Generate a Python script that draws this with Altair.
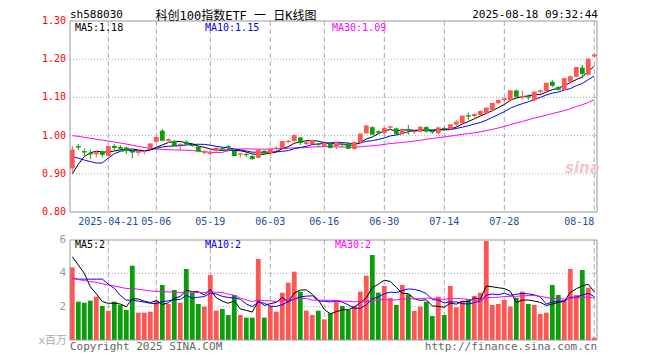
import altair as alt
import pandas as pd

# ---------------- data ----------------
tick_idx = [6, 14, 23, 33, 42, 52, 62, 72, 87]
tick_text = ["2025-04-21", "05-06", "05-19", "06-03", "06-16", "06-30", "07-14", "07-28", "08-18"]
price_ticks = [1.30, 1.20, 1.10, 1.00, 0.90, 0.80]
price_grid = [1.20, 1.10, 1.00, 0.90]
vol_ticks = [6, 4, 2]
vol_grid = [4, 2]

opens = [
    0.914, 0.972, 0.959, 0.955, 0.951, 0.957, 0.947, 0.973, 0.970, 0.969,
    0.960, 0.955, 0.957, 0.967, 0.984, 1.013, 0.986, 0.986, 0.975, 0.984,
    0.976, 0.971, 0.955, 0.953, 0.960, 0.967, 0.972, 0.960, 0.950, 0.952,
    0.947, 0.942, 0.960, 0.954, 0.965, 0.967, 0.983, 0.986, 0.995, 0.978,
    0.978, 0.979, 0.973, 0.980, 0.972, 0.979, 0.980, 0.965, 0.982, 1.006,
    1.022, 1.011, 1.007, 1.021, 1.019, 1.005, 1.016, 1.009, 1.010, 1.022,
    1.012, 1.006, 1.020, 1.017, 1.029, 1.032, 1.053, 1.051, 1.054, 1.058,
    1.067, 1.085, 1.093, 1.093, 1.118, 1.100, 1.103, 1.092, 1.114, 1.117,
    1.141, 1.127, 1.120, 1.141, 1.154, 1.178, 1.159, 1.207]
closes = [
    0.962, 0.970, 0.957, 0.952, 0.955, 0.951, 0.971, 0.969, 0.967, 0.961,
    0.957, 0.958, 0.959, 0.978, 0.995, 0.988, 0.989, 0.974, 0.977, 0.978,
    0.974, 0.960, 0.958, 0.955, 0.967, 0.965, 0.970, 0.948, 0.952, 0.950,
    0.940, 0.962, 0.954, 0.964, 0.967, 0.984, 0.985, 1.000, 0.982, 0.981,
    0.987, 0.977, 0.980, 0.969, 0.982, 0.977, 0.967, 0.982, 1.004, 1.025,
    1.004, 1.009, 1.019, 1.023, 1.005, 1.016, 1.014, 1.011, 1.022, 1.012,
    1.010, 1.020, 1.018, 1.028, 1.035, 1.051, 1.051, 1.055, 1.063, 1.072,
    1.084, 1.092, 1.096, 1.117, 1.103, 1.102, 1.101, 1.114, 1.117, 1.137,
    1.132, 1.121, 1.149, 1.154, 1.178, 1.163, 1.200, 1.211]
highs = [
    0.973, 0.978, 0.966, 0.963, 0.960, 0.961, 0.973, 0.978, 0.975, 0.971,
    0.963, 0.962, 0.963, 0.980, 0.998, 1.017, 0.993, 0.988, 0.980, 0.988,
    0.979, 0.973, 0.962, 0.960, 0.969, 0.970, 0.975, 0.962, 0.955, 0.956,
    0.948, 0.963, 0.962, 0.969, 0.972, 0.986, 0.988, 1.003, 0.997, 0.986,
    0.990, 0.980, 0.982, 0.981, 0.983, 0.983, 0.983, 0.984, 1.005, 1.028,
    1.024, 1.014, 1.021, 1.026, 1.021, 1.018, 1.028, 1.014, 1.024, 1.025,
    1.015, 1.024, 1.023, 1.030, 1.040, 1.053, 1.060, 1.058, 1.066, 1.074,
    1.086, 1.094, 1.099, 1.119, 1.121, 1.118, 1.108, 1.115, 1.121, 1.139,
    1.146, 1.130, 1.151, 1.157, 1.180, 1.185, 1.202, 1.215]
lows = [
    0.905, 0.962, 0.947, 0.938, 0.943, 0.943, 0.945, 0.962, 0.960, 0.952,
    0.941, 0.948, 0.951, 0.962, 0.982, 0.985, 0.981, 0.972, 0.962, 0.975,
    0.971, 0.956, 0.951, 0.948, 0.958, 0.960, 0.962, 0.946, 0.942, 0.944,
    0.936, 0.940, 0.950, 0.947, 0.960, 0.963, 0.980, 0.984, 0.975, 0.975,
    0.975, 0.970, 0.971, 0.966, 0.965, 0.970, 0.965, 0.962, 0.981, 1.004,
    1.002, 1.003, 1.004, 1.016, 1.001, 1.002, 1.002, 1.004, 1.008, 1.008,
    1.004, 1.002, 1.012, 1.015, 1.025, 1.030, 1.040, 1.047, 1.052, 1.055,
    1.065, 1.082, 1.088, 1.090, 1.098, 1.094, 1.093, 1.090, 1.110, 1.115,
    1.127, 1.118, 1.118, 1.139, 1.152, 1.150, 1.157, 1.205]
volumes = [
    4.36, 2.30, 2.24, 2.36, 2.60, 2.04, 1.76, 2.30, 2.10, 1.80,
    4.46, 1.64, 1.64, 1.70, 2.36, 3.30, 2.16, 3.00, 2.24, 4.26,
    2.84, 2.16, 2.00, 3.90, 1.76, 1.86, 1.50, 2.70, 1.50, 1.34,
    1.34, 4.86, 1.34, 2.04, 1.70, 2.84, 3.44, 4.10, 2.90, 1.76,
    1.50, 1.76, 1.24, 1.60, 2.40, 2.04, 1.80, 2.04, 2.90, 3.86,
    5.10, 2.84, 3.24, 2.52, 2.10, 3.30, 2.74, 1.74, 2.00, 2.30,
    1.44, 2.60, 1.50, 3.24, 1.96, 2.34, 2.44, 2.64, 2.84, 5.94,
    2.10, 2.16, 2.40, 2.00, 2.54, 2.90, 2.16, 2.10, 1.56, 1.64,
    3.30, 2.70, 2.40, 4.26, 2.70, 4.20, 3.14, 0.14]
# closes / volumes before the first visible day, estimated from the starting MA lines
prior_close = [1.030, 1.035, 1.025, 1.030, 1.025, 1.040, 1.045, 1.050, 1.040, 1.040,
               1.050, 1.045, 1.050, 1.047, 1.020, 1.010, 0.995, 0.990, 0.990, 0.993,
               1.010, 1.007, 0.992, 0.995, 0.946, 0.845, 0.857, 0.902, 0.934]
prior_volume = [4.5, 4.0, 4.3, 3.9, 4.6, 4.2, 3.8, 4.4, 4.1, 4.16,
                3.4, 3.0, 3.3, 3.1, 3.5, 2.9, 3.2, 3.3, 3.0, 3.34,
                2.8, 2.24, 2.36, 2.6, 2.0, 4.8, 4.74, 6.36, 4.74]

# ---------------- table ----------------
n = len(closes)
npre = len(prior_close)
allc = pd.Series(prior_close + closes)
allv = pd.Series(prior_volume + volumes)
df = pd.DataFrame({
    "i": list(range(n)), "open": opens, "high": highs, "low": lows,
    "close": closes, "vol": volumes,
})
df["dir"] = ["up" if c >= o else "down" for o, c in zip(opens, closes)]
df["xl"] = df["i"] - 0.4
df["xr"] = df["i"] + 0.4
for w in (5, 10, 30):
    df[f"ma{w}"] = allc.rolling(w, min_periods=1).mean().iloc[npre:].values
    df[f"vma{w}"] = allv.rolling(w, min_periods=1).mean().iloc[npre:].values

RED = "#ff5555"
GREEN = "#0a9f0a"
GRID = "#aaaaaa"
MONO = "DejaVu Sans Mono"
CJK = "Noto Sans CJK SC"
W, PH = 527, 191
VT, VB = 219, 319

xs = alt.Scale(domain=[-0.383, 87.45], nice=False, zero=False)
ps = alt.Scale(domain=[0.8, 1.3], range=[PH, 0], nice=False, zero=False)
vs = alt.Scale(domain=[0, 6], range=[VB, VT], nice=False, zero=False)
cs = alt.Scale(domain=["up", "down"], range=[RED, GREEN])

base = alt.Chart(df)
X = alt.X("i:Q", scale=xs, axis=None)
COL = alt.Color("dir:N", scale=cs, legend=None)

ticks_df = pd.DataFrame({"i": tick_idx, "t": tick_text})

# ---------- price panel ----------
pgrid = alt.Chart(pd.DataFrame({"p": price_grid})).mark_rule(
    color=GRID, strokeDash=[1, 2], strokeWidth=1).encode(
    y=alt.Y("p:Q", scale=ps, axis=None), x=alt.value(0), x2=alt.value(W))
pvgrid = alt.Chart(ticks_df).mark_rule(color=GRID, strokeDash=[5, 3]).encode(
    x=alt.X("i:Q", scale=xs, axis=None), y=alt.value(0), y2=alt.value(PH))
wick = base.mark_rule(strokeWidth=1).encode(
    x=X, y=alt.Y("low:Q", scale=ps, axis=None), y2="high:Q", color=COL)
body = base.mark_rect().encode(
    x=alt.X("xl:Q", scale=xs, axis=None), x2="xr:Q",
    y=alt.Y("open:Q", scale=ps, axis=None), y2="close:Q", color=COL)
cline = base.mark_rule(strokeWidth=1).encode(
    x=alt.X("xl:Q", scale=xs, axis=None), x2="xr:Q",
    y=alt.Y("close:Q", scale=ps, axis=None), color=COL)
ma5 = base.mark_line(color="black", strokeWidth=1).encode(x=X, y=alt.Y("ma5:Q", scale=ps, axis=None))
ma10 = base.mark_line(color="#0000ff", strokeWidth=1).encode(x=X, y=alt.Y("ma10:Q", scale=ps, axis=None))
ma30 = base.mark_line(color="#ff00ff", strokeWidth=1).encode(x=X, y=alt.Y("ma30:Q", scale=ps, axis=None))
plabels = alt.Chart(pd.DataFrame({"p": price_ticks})).mark_text(
    align="right", baseline="middle", font=MONO, fontSize=10, color="#ff0000", dx=-4).encode(
    y=alt.Y("p:Q", scale=ps, axis=None), x=alt.value(0), text=alt.Text("p:Q", format=".2f"))
pframe = alt.Chart(pd.DataFrame({"a": [0]})).mark_rect(
    fill=None, stroke="#999999", strokeWidth=1).encode(
    x=alt.value(0), x2=alt.value(W), y=alt.value(0), y2=alt.value(PH))
price = alt.layer(pgrid, pvgrid, ma30, ma10, ma5, wick, body, cline, plabels, pframe)

# ---------- volume panel ----------
vgrid = alt.Chart(pd.DataFrame({"v": vol_grid})).mark_rule(
    color=GRID, strokeDash=[1, 2]).encode(
    y=alt.Y("v:Q", scale=vs, axis=None), x=alt.value(0), x2=alt.value(W))
vvgrid = alt.Chart(ticks_df).mark_rule(color=GRID, strokeDash=[5, 3]).encode(
    x=alt.X("i:Q", scale=xs, axis=None), y=alt.value(VT), y2=alt.value(VB))
vbars = base.mark_rect().encode(
    x=alt.X("xl:Q", scale=xs, axis=None), x2="xr:Q",
    y=alt.Y("vol:Q", scale=vs, axis=None), y2=alt.datum(0), color=COL)
vma5 = base.mark_line(color="black", strokeWidth=1).encode(x=X, y=alt.Y("vma5:Q", scale=vs, axis=None))
vma10 = base.mark_line(color="#0000ff", strokeWidth=1).encode(x=X, y=alt.Y("vma10:Q", scale=vs, axis=None))
vma30 = base.mark_line(color="#ff00ff", strokeWidth=1).encode(x=X, y=alt.Y("vma30:Q", scale=vs, axis=None))
vlabels = alt.Chart(pd.DataFrame({"v": vol_ticks})).mark_text(
    align="right", baseline="middle", font=MONO, fontSize=11, color="#999999", dx=-4).encode(
    y=alt.Y("v:Q", scale=vs, axis=None), x=alt.value(0), text="v:Q")
vframe = alt.Chart(pd.DataFrame({"a": [0]})).mark_rect(
    fill=None, stroke="#999999", strokeWidth=1).encode(
    x=alt.value(0), x2=alt.value(W), y=alt.value(VT), y2=alt.value(VB))
volume = alt.layer(vgrid, vvgrid, vbars, vma5, vma10, vma30, vlabels, vframe)

# ---------- date labels ----------
dl_mid = alt.Chart(ticks_df.iloc[:-1]).mark_text(
    align="center", baseline="middle", font=MONO, fontSize=10, color="#1a4fa0").encode(
    x=alt.X("i:Q", scale=xs, axis=None), y=alt.value(201), text="t:N")
dl_last = alt.Chart(ticks_df.iloc[-1:]).mark_text(
    align="right", baseline="middle", font=MONO, fontSize=10, color="#1a4fa0").encode(
    x=alt.X("i:Q", scale=xs, axis=None), y=alt.value(201), text="t:N")


def label(txt, x, y, color="#000000", size=10, font=MONO, align="left", **kw):
    return alt.Chart(pd.DataFrame({"t": [txt]})).mark_text(
        align=align, baseline="middle", font=font, fontSize=size, color=color, **kw).encode(
        x=alt.value(x), y=alt.value(y), text="t:N")


deco = alt.layer(
    dl_mid, dl_last,
    label("sh588030", 0, -6, size=11),
    label("科创100指数ETF 一 日K线图", 166, -5, size=12, font=f"{MONO}, {CJK}", align="center"),
    label("2025-08-18 09:32:44", 528, -6, size=11, align="right"),
    label("MA5:1.18", 5, 7),
    label("MA10:1.15", 135, 7, color="#0000ff"),
    label("MA30:1.09", 262, 7, color="#ff00ff"),
    label("MA5:2", 5, 224),
    label("MA10:2", 135, 224, color="#0000ff"),
    label("MA30:2", 265, 224, color="#ff00ff"),
    label("x百万", -3, 320, color="#aaaaaa", size=11, font=f"{MONO}, {CJK}", align="right"),
    label("Copyright 2025 SINA.COM", 0, 326, color="#666666", size=11),
    label("http://finance.sina.com.cn", 527, 326, color="#666666", size=11, align="right"),
    label("sina", 495, 147, color="#f0c8c8", size=15, font="DejaVu Sans", fontStyle="italic", fontWeight="bold"),
)

chart = alt.layer(price, volume, deco).resolve_scale(y="independent").properties(
    width=W, height=VB,
    padding={"left": 62, "top": 13, "right": 12, "bottom": 18},
    autosize="none",
    background="white",
).configure_view(stroke=None)

chart.save("out.html", embed_options={"renderer": "svg", "actions": False})
